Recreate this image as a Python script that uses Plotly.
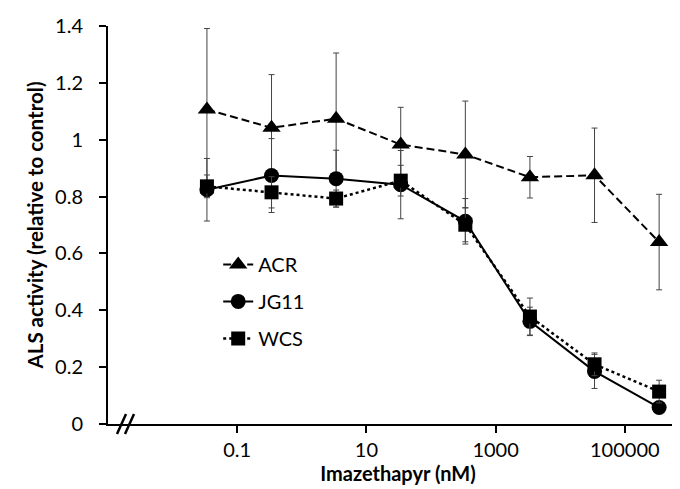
import plotly.graph_objects as go

conc = [0.034, 0.34, 3.4, 34, 340, 3400, 34000, 340000]
acr = [1.106, 1.042, 1.074, 0.983, 0.948, 0.868, 0.875, 0.640]
acr_err = [0.285, 0.187, 0.231, 0.131, 0.188, 0.073, 0.166, 0.168]
jg11 = [0.824, 0.874, 0.863, 0.842, 0.713, 0.361, 0.185, 0.058]
jg11_err = [0.11, 0.13, 0.10, 0.12, 0.08, 0.05, 0.06, 0.02]
wcs = [0.836, 0.815, 0.793, 0.856, 0.701, 0.378, 0.210, 0.114]
wcs_err = [0.04, 0.055, 0.03, 0.054, 0.06, 0.065, 0.04, 0.04]

x_ticks = [0.1, 10, 1000, 100000]
x_tick_text = ["0.1", "10", "1000", "100000"]
y_ticks = [0, 0.2, 0.4, 0.6, 0.8, 1, 1.2, 1.4]
y_tick_text = ["0", "0.2", "0.4", "0.6", "0.8", "1", "1.2", "1.4"]

FONT = "Lato"
W, H = 680, 489
ML, MR, MT, MB = 100, 0, 18, 73

err_style = dict(type="data", visible=True, color="#444444", thickness=1, width=3)

fig = go.Figure()
fig.add_trace(go.Scatter(
    x=conc, y=acr, name="ACR", mode="lines+markers",
    line=dict(color="black", width=2, dash="8px,4px"),
    marker=dict(symbol="triangle-up", size=16, color="black"),
    error_y=dict(array=acr_err, **err_style), legendgroup="a"))
fig.add_trace(go.Scatter(
    x=conc, y=jg11, name="JG11", mode="lines+markers",
    line=dict(color="black", width=2),
    marker=dict(symbol="circle", size=15, color="black"),
    error_y=dict(array=jg11_err, **err_style), legendgroup="b"))
fig.add_trace(go.Scatter(
    x=conc, y=wcs, name="WCS", mode="lines+markers",
    line=dict(color="black", width=2.5, dash="dot"),
    marker=dict(symbol="square", size=14, color="black"),
    error_y=dict(array=wcs_err, **err_style), legendgroup="c"))

pw = W - ML - MR
ph = H - MT - MB
def px2paper(px, py):
    return (px - ML) / pw, 1 - (py - MT) / ph

shapes = []
for (x0, y0, x1, y1) in [(109, 426, 118, 406), (117, 426, 126, 406)]:
    a, b = px2paper(x0, y0)
    c, d = px2paper(x1, y1)
    shapes.append(dict(type="line", xref="paper", yref="paper", x0=a, y0=b, x1=c, y1=d,
                       line=dict(color="black", width=2.5)))

fig.update_layout(
    width=W, height=H, margin=dict(l=ML, r=MR, t=MT, b=MB),
    paper_bgcolor="white", plot_bgcolor="white",
    font=dict(family=FONT, size=20, color="black"),
    showlegend=True,
    legend=dict(x=0.19, y=0.45, xanchor="left", yanchor="top", bgcolor="rgba(0,0,0,0)",
                font=dict(family=FONT, size=20), tracegroupgap=8, itemwidth=30),
    shapes=shapes,
    xaxis=dict(type="log", range=[-3, -3 + pw / 64.6], tickvals=x_ticks, ticktext=x_tick_text,
               showline=True, linecolor="black", linewidth=2, ticks="outside", ticklen=7,
               tickcolor="black", tickwidth=1.5, showgrid=False, zeroline=False,
               title=dict(text="<b>Imazethapyr (nM)</b>", font=dict(family=FONT, size=20), standoff=2)),
    yaxis=dict(range=[0, 1.4], tickvals=y_ticks, ticktext=y_tick_text,
               showline=True, linecolor="black", linewidth=2, ticks="outside", ticklen=7,
               tickcolor="black", tickwidth=1.5, showgrid=False, zeroline=False,
               ticklabelstandoff=12,
               title=dict(text="<b>ALS activity (relative to control)</b>", font=dict(family=FONT, size=20.5), standoff=6)),
)

fig.write_html("out.html")
